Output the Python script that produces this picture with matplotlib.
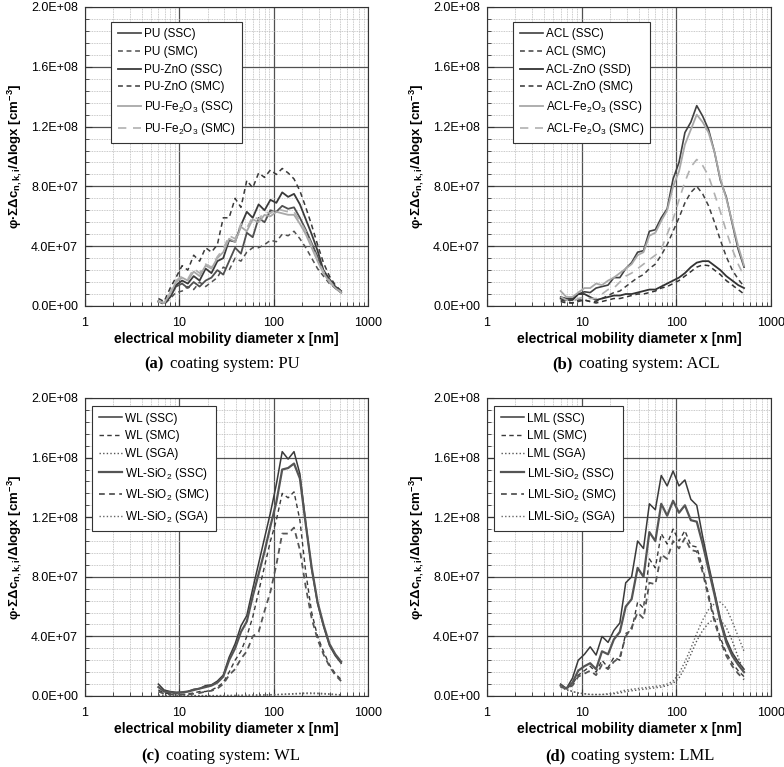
import numpy as np
import matplotlib.pyplot as plt
from matplotlib.ticker import FuncFormatter, MultipleLocator, FixedLocator, LogLocator, NullFormatter

plt.rcParams['font.family'] = ['Liberation Sans', 'DejaVu Sans']
plt.rcParams['mathtext.fontset'] = 'custom'
plt.rcParams['mathtext.rm'] = 'Liberation Sans'
plt.rcParams['mathtext.it'] = 'Liberation Sans:italic'
plt.rcParams['mathtext.bf'] = 'Liberation Sans:bold'

# electrical mobility diameter [nm]
diam = [6.0, 6.9, 8.0, 9.2, 10.7, 12.3, 14.2, 16.4, 19.0, 21.9, 25.3, 29.2, 33.7, 39.0, 45.0, 51.9,
        60.0, 69.3, 80.0, 92.4, 106.7, 123.2, 142.3, 164.3, 189.7, 219.0, 253.0, 292.0, 337.0, 390.0, 450.0, 519.0]

# all values in 1E+07 cm^-3
# (a) PU
pu_ssc = [0.3, 0.2, 0.6, 1.3, 1.5, 1.2, 1.6, 1.3, 1.7, 1.9, 2.4, 2.1, 3.0, 3.9, 3.5, 4.9, 4.6, 5.9, 5.6, 6.4, 6.3, 6.7, 6.5, 6.6, 5.9, 5.1, 4.2, 3.3, 2.3, 1.7, 1.2, 0.9]
pu_smc = [0.3, 0.1, 0.5, 0.9, 1.0, 1.3, 1.1, 1.6, 1.3, 1.6, 1.9, 2.6, 2.4, 3.2, 3.0, 3.6, 3.9, 3.9, 4.1, 4.4, 4.3, 4.8, 4.7, 5.0, 4.5, 3.9, 3.2, 2.5, 2.0, 1.5, 1.2, 0.9]
pu_zno_ssc = [0.3, 0.2, 0.6, 1.4, 1.7, 1.5, 2.0, 1.7, 2.5, 2.2, 3.0, 3.2, 4.4, 4.3, 5.4, 6.3, 5.9, 6.8, 6.4, 7.1, 6.9, 7.6, 7.3, 7.5, 6.8, 5.8, 4.8, 3.7, 2.4, 1.8, 1.3, 1.0]
pu_zno_smc = [0.5, 0.3, 1.2, 1.9, 2.7, 2.4, 3.4, 3.0, 3.9, 3.6, 4.1, 5.9, 5.9, 7.2, 6.6, 8.4, 7.9, 8.9, 8.6, 9.1, 8.8, 9.2, 8.9, 8.5, 7.7, 6.6, 5.4, 4.1, 2.9, 2.0, 1.4, 1.0]
pu_fe_ssc = [0.3, 0.2, 0.8, 1.6, 1.9, 1.7, 2.3, 2.0, 2.7, 2.5, 3.2, 3.6, 4.5, 4.3, 5.3, 5.0, 5.8, 5.6, 6.1, 6.0, 6.3, 6.2, 6.1, 6.1, 5.5, 4.8, 3.9, 3.0, 2.2, 1.6, 1.2, 0.9]
pu_fe_smc = [0.3, 0.2, 0.9, 1.7, 2.0, 1.8, 2.5, 2.2, 2.8, 2.6, 3.3, 3.8, 4.7, 4.5, 5.5, 5.2, 6.0, 5.8, 6.3, 6.2, 6.5, 6.4, 6.3, 6.3, 5.7, 5.0, 4.1, 3.1, 2.3, 1.7, 1.2, 0.95]

# (b) ACL
acl_ssc = [0.6, 0.5, 0.5, 0.8, 0.95, 0.9, 1.2, 1.3, 1.4, 1.9, 1.9, 2.5, 2.9, 3.6, 3.7, 5.0, 5.1, 5.9, 6.5, 8.5, 9.6, 11.6, 12.3, 13.4, 12.7, 11.8, 10.3, 8.4, 7.3, 5.5, 3.8, 2.6]
acl_smc = [0.4, 0.3, 0.2, 0.3, 0.4, 0.3, 0.3, 0.5, 0.7, 0.9, 1.0, 1.3, 1.6, 1.9, 2.1, 2.5, 2.8, 3.4, 4.1, 5.0, 5.9, 6.9, 7.6, 8.0, 7.5, 6.7, 5.6, 4.4, 3.3, 2.4, 1.8, 1.3]
acl_zno_ssd = [0.5, 0.4, 0.4, 0.8, 0.8, 0.6, 0.4, 0.5, 0.6, 0.7, 0.7, 0.8, 0.8, 0.9, 1.0, 1.1, 1.1, 1.3, 1.5, 1.7, 1.9, 2.2, 2.6, 2.9, 3.0, 3.0, 2.7, 2.4, 2.0, 1.7, 1.4, 1.2]
acl_zno_smc = [0.3, 0.2, 0.2, 0.4, 0.4, 0.3, 0.2, 0.3, 0.4, 0.5, 0.5, 0.6, 0.7, 0.8, 0.8, 0.9, 1.0, 1.2, 1.3, 1.5, 1.7, 2.0, 2.3, 2.6, 2.75, 2.7, 2.4, 2.1, 1.7, 1.4, 1.1, 0.8]
acl_fe_ssc = [1.0, 0.6, 0.6, 0.9, 1.2, 1.2, 1.5, 1.4, 1.7, 1.9, 2.2, 2.5, 2.8, 3.4, 3.6, 4.7, 4.9, 5.7, 6.4, 8.0, 9.0, 10.8, 11.8, 12.8, 12.3, 11.6, 10.3, 8.5, 7.2, 5.6, 4.0, 2.7]
acl_fe_smc = [0.6, 0.4, 0.3, 0.5, 0.6, 0.5, 0.5, 0.8, 1.1, 1.2, 1.6, 2.0, 2.2, 2.5, 2.8, 3.1, 3.4, 3.8, 4.8, 5.8, 7.1, 8.3, 9.3, 9.8, 9.4, 8.7, 7.5, 6.3, 5.0, 3.8, 2.8, 2.0]

# (c) WL
wl_ssc = [0.8, 0.4, 0.3, 0.25, 0.25, 0.3, 0.45, 0.5, 0.7, 0.75, 1.0, 1.4, 2.6, 3.5, 4.7, 5.4, 7.2, 8.9, 10.6, 12.3, 14.2, 16.4, 15.9, 16.4, 14.9, 11.6, 8.5, 6.2, 4.7, 3.4, 2.7, 2.2]
wl_smc = [0.4, 0.2, 0.15, 0.15, 0.1, 0.15, 0.2, 0.3, 0.3, 0.4, 0.6, 0.9, 1.6, 2.4, 3.0, 4.0, 5.3, 7.0, 8.7, 10.4, 11.8, 13.6, 13.3, 13.7, 11.8, 8.3, 5.6, 4.0, 3.0, 2.1, 1.5, 1.1]
wl_sga = [0.05, 0.04, 0.03, 0.03, 0.03, 0.03, 0.03, 0.03, 0.03, 0.03, 0.03, 0.03, 0.04, 0.04, 0.05, 0.05, 0.06, 0.07, 0.08, 0.09, 0.1, 0.12, 0.14, 0.16, 0.18, 0.2, 0.2, 0.19, 0.17, 0.14, 0.11, 0.08]
wl_sio2_ssc = [0.6, 0.3, 0.25, 0.2, 0.25, 0.3, 0.4, 0.5, 0.6, 0.7, 0.9, 1.3, 2.4, 3.2, 4.3, 5.0, 6.7, 8.2, 9.7, 11.4, 13.0, 15.2, 15.3, 15.6, 14.6, 11.5, 8.6, 6.3, 4.8, 3.5, 2.8, 2.3]
wl_sio2_smc = [0.3, 0.15, 0.1, 0.1, 0.1, 0.1, 0.15, 0.2, 0.3, 0.35, 0.5, 0.8, 1.4, 1.8, 2.5, 3.0, 4.0, 4.3, 5.7, 7.0, 8.8, 10.9, 10.9, 11.3, 9.8, 7.3, 5.2, 3.8, 2.8, 2.0, 1.4, 1.0]
wl_sio2_sga = [0.04, 0.03, 0.02, 0.02, 0.02, 0.02, 0.02, 0.02, 0.02, 0.02, 0.02, 0.03, 0.03, 0.03, 0.04, 0.04, 0.05, 0.05, 0.06, 0.07, 0.08, 0.1, 0.11, 0.13, 0.15, 0.16, 0.16, 0.15, 0.13, 0.11, 0.09, 0.06]

# (d) LML
lml_ssc = [0.8, 0.5, 1.2, 2.4, 2.8, 3.3, 2.75, 4.0, 3.6, 4.4, 4.9, 7.6, 8.0, 10.4, 9.9, 12.9, 12.5, 14.8, 14.1, 15.1, 14.1, 14.5, 13.2, 12.8, 10.7, 8.8, 7.0, 5.2, 3.8, 2.9, 2.3, 1.8]
lml_smc = [0.7, 0.5, 0.8, 1.4, 1.7, 2.0, 1.6, 2.4, 1.9, 2.6, 2.4, 4.2, 4.4, 6.3, 5.9, 9.2, 8.6, 10.9, 10.2, 11.2, 10.4, 11.1, 10.1, 10.0, 8.6, 6.8, 5.2, 3.9, 2.9, 2.2, 1.7, 1.3]
lml_sga = [0.6, 0.4, 0.3, 0.2, 0.15, 0.1, 0.1, 0.1, 0.12, 0.15, 0.2, 0.3, 0.35, 0.4, 0.45, 0.5, 0.55, 0.6, 0.7, 0.85, 1.2, 1.9, 2.8, 3.7, 4.4, 4.9, 5.2, 5.1, 4.6, 3.7, 2.6, 1.6]
lml_sio2_ssc = [0.7, 0.5, 0.9, 1.7, 2.0, 2.2, 1.8, 3.0, 2.8, 3.8, 4.3, 6.0, 6.5, 8.6, 8.0, 11.0, 10.4, 12.9, 12.1, 13.1, 12.3, 12.8, 11.8, 11.7, 10.2, 8.5, 6.8, 5.0, 3.6, 2.7, 2.1, 1.6]
lml_sio2_smc = [0.6, 0.5, 0.7, 1.3, 1.5, 1.7, 1.4, 2.1, 1.8, 2.3, 2.6, 4.0, 4.6, 5.6, 5.2, 7.6, 7.5, 9.5, 9.2, 10.4, 9.9, 10.6, 9.8, 9.7, 8.3, 6.6, 5.0, 3.7, 2.7, 2.0, 1.5, 1.1]
lml_sio2_sga = [0.7, 0.5, 0.3, 0.2, 0.15, 0.1, 0.1, 0.1, 0.15, 0.2, 0.3, 0.4, 0.45, 0.5, 0.55, 0.6, 0.65, 0.7, 0.8, 1.0, 1.5, 2.3, 3.2, 4.2, 5.1, 5.8, 6.2, 6.3, 5.9, 5.0, 4.0, 3.0]

DASH = (0, (3.2, 2.4))
LDASH = (0, (5, 4))
DOT = (0, (1, 1.6))

panels = [
    ('(a)', 'coating system: PU', (0.092, 0.95), [
        ('PU (SSC)', pu_ssc, '#505050', '-', 1.3),
        ('PU (SMC)', pu_smc, '#505050', DASH, 1.1),
        ('PU-ZnO (SSC)', pu_zno_ssc, '#3a3a3a', '-', 1.3),
        ('PU-ZnO (SMC)', pu_zno_smc, '#3a3a3a', DASH, 1.1),
        ('PU-Fe$_2$O$_3$ (SSC)', pu_fe_ssc, '#a8a8a8', '-', 1.3),
        ('PU-Fe$_2$O$_3$ (SMC)', pu_fe_smc, '#b0b0b0', LDASH, 1.2)]),
    ('(b)', 'coating system: ACL', (0.092, 0.95), [
        ('ACL (SSC)', acl_ssc, '#404040', '-', 1.2),
        ('ACL (SMC)', acl_smc, '#404040', DASH, 1.1),
        ('ACL-ZnO (SSD)', acl_zno_ssd, '#333333', '-', 1.3),
        ('ACL-ZnO (SMC)', acl_zno_smc, '#333333', DASH, 1.1),
        ('ACL-Fe$_2$O$_3$ (SSC)', acl_fe_ssc, '#a8a8a8', '-', 1.3),
        ('ACL-Fe$_2$O$_3$ (SMC)', acl_fe_smc, '#b0b0b0', LDASH, 1.2)]),
    ('(c)', 'coating system: WL', (0.025, 0.973), [
        ('WL (SSC)', wl_ssc, '#3a3a3a', '-', 1.1),
        ('WL (SMC)', wl_smc, '#3a3a3a', DASH, 1.0),
        ('WL (SGA)', wl_sga, '#555555', DOT, 1.0),
        ('WL-SiO$_2$ (SSC)', wl_sio2_ssc, '#555555', '-', 1.6),
        ('WL-SiO$_2$ (SMC)', wl_sio2_smc, '#555555', DASH, 1.3),
        ('WL-SiO$_2$ (SGA)', wl_sio2_sga, '#666666', DOT, 1.0)]),
    ('(d)', 'coating system: LML', (0.025, 0.973), [
        ('LML (SSC)', lml_ssc, '#3a3a3a', '-', 1.1),
        ('LML (SMC)', lml_smc, '#3a3a3a', DASH, 1.0),
        ('LML (SGA)', lml_sga, '#555555', DOT, 1.0),
        ('LML-SiO$_2$ (SSC)', lml_sio2_ssc, '#555555', '-', 1.6),
        ('LML-SiO$_2$ (SMC)', lml_sio2_smc, '#555555', DASH, 1.3),
        ('LML-SiO$_2$ (SGA)', lml_sio2_sga, '#666666', DOT, 1.0)]),
]

W, H = 784, 767
fig = plt.figure(figsize=(W / 100, H / 100), dpi=100)
renderer = fig.canvas.get_renderer()

# axes boxes in pixels: left, top, right, bottom
boxes = [(85, 7, 368, 306), (487, 7, 771, 306), (85, 398, 368, 696), (487, 398, 771, 696)]
# caption centre (x, y) in pixels
caps = [(222, 364), (636, 364), (221, 756), (630, 756)]

for (tag, cap, anchor, series), (l, t, r, b), (cx, cy) in zip(panels, boxes, caps):
    ax = fig.add_axes([l / W, 1 - b / H, (r - l) / W, (b - t) / H])
    for label, vals, col, ls, lw in series:
        ax.plot(diam, np.array(vals) * 1e7, color=col, ls=ls, lw=lw, label=label)
    ax.set_xscale('log')
    ax.set_xlim(1, 1000)
    ax.set_ylim(0, 2e8)
    ax.xaxis.set_major_locator(FixedLocator([1, 10, 100, 1000]))
    ax.xaxis.set_major_formatter(FuncFormatter(lambda v, p: '%d' % v))
    ax.xaxis.set_minor_locator(LogLocator(base=10, subs=np.arange(2, 10)))
    ax.xaxis.set_minor_formatter(NullFormatter())
    ax.yaxis.set_major_locator(MultipleLocator(4e7))
    ax.yaxis.set_minor_locator(MultipleLocator(8e6))
    ax.yaxis.set_major_formatter(FuncFormatter(lambda v, p: '%.1E' % v))
    ax.tick_params(which='both', direction='in', labelsize=9, color='#333333')
    ax.tick_params(which='major', length=5, pad=8)
    ax.tick_params(which='minor', length=3)
    ax.tick_params(axis='y', which='major', pad=5)
    ax.set_axisbelow(True)
    ax.grid(which='major', color='#505050', lw=0.9)
    ax.grid(which='minor', color='#b8b8b8', lw=0.6, ls=(0, (1, 1)))
    for s in ax.spines.values():
        s.set_color('#333333')
        s.set_linewidth(0.8)
    ax.set_xlabel('electrical mobility diameter x [nm]', fontsize=10, fontweight='bold', labelpad=2)
    ax.set_ylabel('φ·ΣΔc$_\\mathbf{n,k,i}$/Δlogx [cm$^\\mathbf{-3}$]', fontsize=9.5,
                  fontweight='bold', labelpad=5)
    leg = ax.legend(loc='upper left', bbox_to_anchor=anchor, fontsize=8.5, fancybox=False,
                    edgecolor='#333333', framealpha=1, borderaxespad=0, handlelength=2.0,
                    labelspacing=0.48, borderpad=0.55, handletextpad=0.2)
    leg.get_frame().set_linewidth(0.8)
    # caption: bold tag + regular text, centred as a whole
    t1 = fig.text(0, 1 - cy / H, tag, family='Liberation Serif', fontweight='bold',
                  fontsize=12, ha='left', va='center')
    t2 = fig.text(0, 1 - cy / H, cap, family='Liberation Serif', fontsize=12,
                  ha='left', va='center')
    w1 = t1.get_window_extent(renderer).width
    w2 = t2.get_window_extent(renderer).width
    gap = 6
    x0 = cx - (w1 + gap + w2) / 2
    t1.set_x(x0 / W)
    t2.set_x((x0 + w1 + gap) / W)

fig.savefig('out.png', dpi=100)
